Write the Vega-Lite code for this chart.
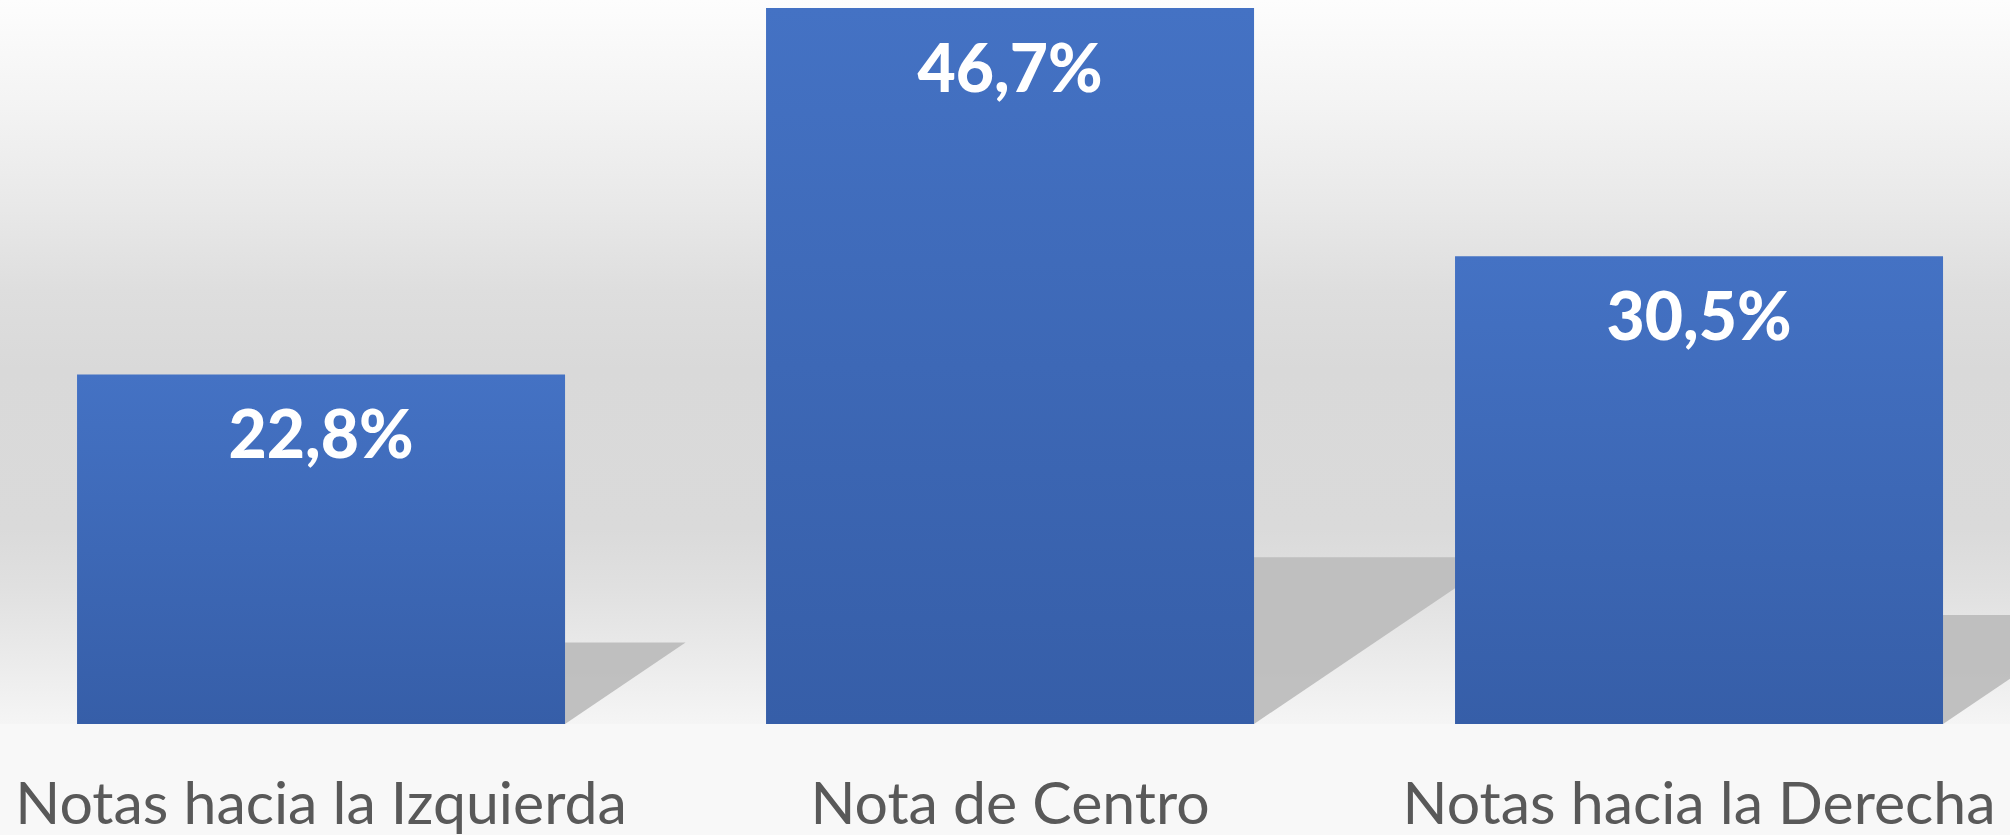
{
  "$schema": "https://vega.github.io/schema/vega-lite/v6.json",
  "width": 2010,
  "height": 724,
  "autosize": {"type": "none"},
  "padding": {"top": 0, "left": 0, "right": 0, "bottom": 111},
  "background": "#f8f8f8",
  "config": {
    "locale": {"number": {"decimal": ",", "thousands": ".", "grouping": [3], "currency": ["", " €"]}},
    "view": {
      "stroke": null,
      "fill": {
        "gradient": "linear", "x1": 0, "y1": 0, "x2": 0, "y2": 1,
        "stops": [
          {"offset": 0, "color": "#fdfdfd"},
          {"offset": 0.15, "color": "#f3f3f3"},
          {"offset": 0.29, "color": "#e8e8e8"},
          {"offset": 0.4, "color": "#dedede"},
          {"offset": 0.51, "color": "#d9d9d9"},
          {"offset": 0.73, "color": "#dadada"},
          {"offset": 0.81, "color": "#e0e0e0"},
          {"offset": 0.92, "color": "#ececec"},
          {"offset": 1, "color": "#f5f5f5"}
        ]
      }
    }
  },
  "data": {
    "values": [
      {"categoria": "Notas hacia la Izquierda", "valor": 0.228},
      {"categoria": "Nota de Centro", "valor": 0.467},
      {"categoria": "Notas hacia la Derecha", "valor": 0.305}
    ]
  },
  "encoding": {
    "x": {
      "field": "categoria", "type": "nominal", "sort": null,
      "scale": {"paddingInner": 0.2917, "paddingOuter": 0.1045, "align": 0.535},
      "axis": {
        "title": null, "labelAngle": 0, "domain": false, "ticks": false, "tickSize": 0,
        "labelFont": "Lato", "labelFontSize": 59, "labelColor": "#595959", "labelLimit": 0,
        "labelBaseline": "alphabetic", "labelPadding": 99, "grid": false
      }
    },
    "y": {
      "field": "valor", "type": "quantitative",
      "scale": {"domain": [0, 0.4722], "nice": false, "zero": true},
      "axis": null
    }
  },
  "layer": [
    {
      "mark": {
        "type": "point", "shape": "M0 0 L0 -1 L1.48 -1 Z", "filled": true,
        "fill": "#bdbdbd", "opacity": 0.95, "strokeWidth": 0, "xOffset": 244
      },
      "encoding": {
        "y": {"datum": 0},
        "size": {
          "field": "valor", "type": "quantitative", "legend": null,
          "scale": {"type": "pow", "exponent": 2, "domain": [0, 0.5], "range": [0, 127592]}
        }
      }
    },
    {
      "mark": {
        "type": "bar",
        "color": {
          "gradient": "linear", "x1": 0, "y1": 0, "x2": 0, "y2": 1,
          "stops": [
            {"offset": 0, "color": "#4472c4"},
            {"offset": 1, "color": "#365ea8"}
          ]
        }
      }
    },
    {
      "mark": {
        "type": "text", "baseline": "alphabetic", "align": "center", "dy": 84,
        "font": "Lato", "fontWeight": 900, "fontSize": 66, "color": "#ffffff"
      },
      "encoding": {
        "text": {"field": "valor", "type": "quantitative", "format": ".1%"}
      }
    }
  ]
}
